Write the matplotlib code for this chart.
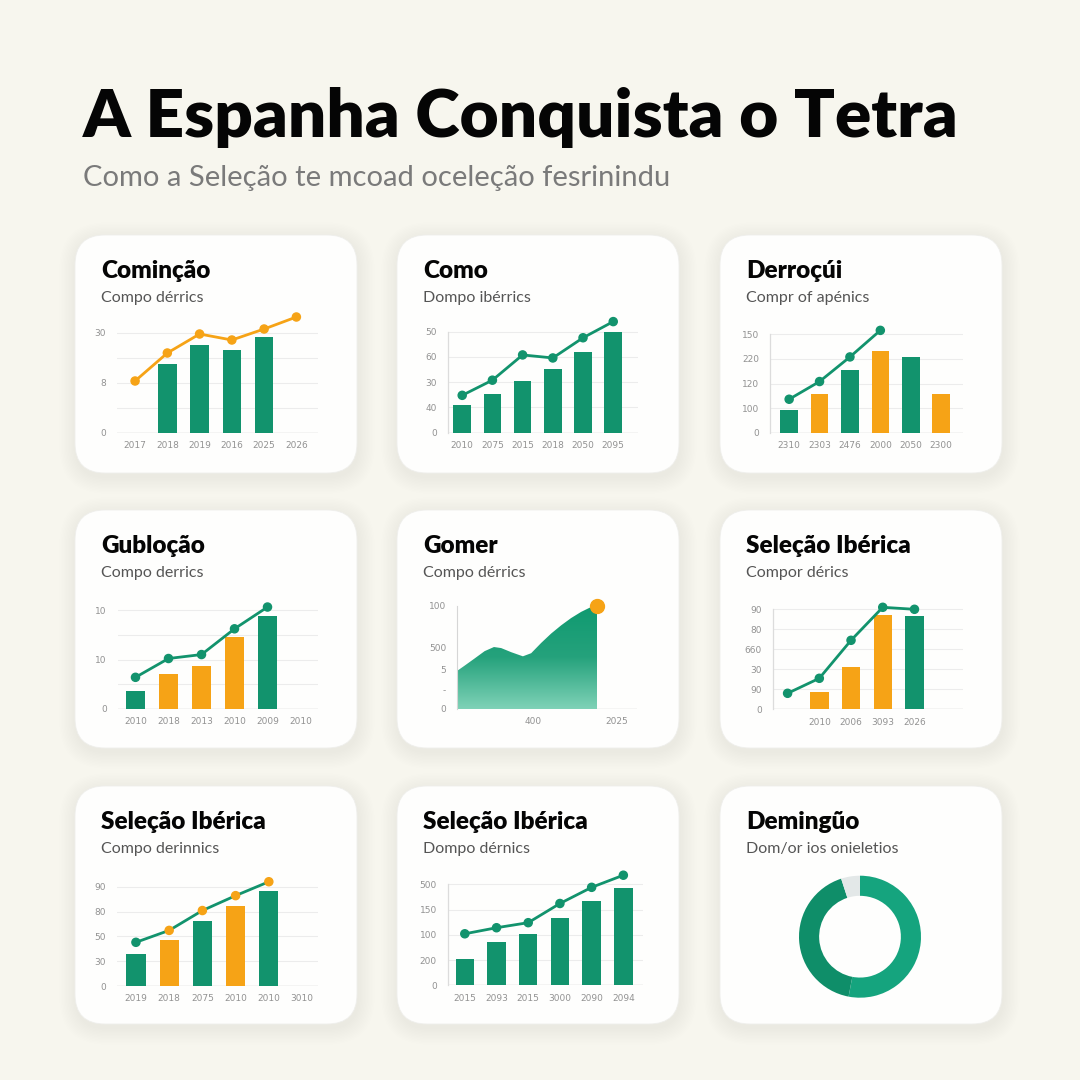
import numpy as np
import matplotlib
matplotlib.use("Agg")
import matplotlib.pyplot as plt
from matplotlib.patches import FancyBboxPatch
from matplotlib.colors import LinearSegmentedColormap

nan = np.nan

# ---- data ----
title = "A Espanha Conquista o Tetra"
subtitle = "Como a Seleção te mcoad oceleção fesrinindu"

card_titles = ["Cominção", "Como", "Derroçúi",
               "Gubloção", "Gomer", "Seleção Ibérica",
               "Seleção Ibérica", "Seleção Ibérica", "Demingũo"]
card_subtitles = ["Compo dérrics", "Dompo ibérrics", "Compr of apénics",
                  "Compo derrics", "Compo dérrics", "Compor dérics",
                  "Compo derinnics", "Dompo dérnics", "Dom/or ios onieletios"]

c1_years = ["2017", "2018", "2019", "2016", "2025", "2026"]
c1_bars = [nan, 69, 88, 83, 96, nan]
c1_line = [52, 80, 99, 93, 104, 116]
c1_ylabels = ["0", "", "8", "", "30"]

c2_years = ["2010", "2075", "2015", "2018", "2050", "2095"]
c2_bars = [27, 38, 51, 63, 80, 100]
c2_line = [37, 52, 77, 74, 94, 110]
c2_ylabels = ["0", "40", "30", "60", "50"]

c3_years = ["2310", "2303", "2476", "2000", "2050", "2300"]
c3_bars = [23, 39, 64, 83, 77, 39]
c3_line = [34, 52, 77, 104]
c3_ylabels = ["0", "100", "120", "220", "150"]

c4_years = ["2010", "2018", "2013", "2010", "2009", "2010"]
c4_bars = [18, 35, 43, 73, 94, nan]
c4_line = [32, 51, 55, 81, 103]
c4_ylabels = ["0", "", "10", "", "10"]

c5_x = [0, 4.1, 9.7, 15.2, 20.4, 24.4, 30, 36.5, 41.1, 46.7, 52.2, 57.8, 63.3, 68.9, 73.6, 77.9]
c5_y = [37, 42, 49, 56, 60, 59, 55, 51, 54, 64, 73, 81, 88, 94, 98, 100]
c5_xticks = [42, 89]
c5_xlabels = ["400", "2025"]
c5_yticks = [0, 19, 38, 60, 100]
c5_ylabels = ["0", "-", "5", "500", "100"]

c6_years = ["", "2010", "2006", "3093", "2026"]
c6_bars = [nan, 17, 42, 94, 93]
c6_line = [16, 31, 69, 102, 100]
c6_ylabels = ["0", "90", "30", "660", "80", "90"]

c7_years = ["2019", "2018", "2075", "2010", "2010", "3010"]
c7_bars = [32, 46, 65, 81, 96, nan]
c7_line = [44, 56, 76, 91, 105]
c7_ylabels = ["0", "30", "50", "80", "90"]

c8_years = ["2015", "2093", "2015", "3000", "2090", "2094"]
c8_bars = [26, 43, 51, 67, 83, 96]
c8_line = [51, 57, 62, 81, 97, 109]
c8_ylabels = ["0", "200", "100", "150", "500"]

c9_shares = [53, 42, 5]

# ---- style ----
BG = "#f7f6ee"
GREEN = "#12936d"
ORANGE = "#f6a316"
TICK = "#929292"
FONT = ["Lato", "DejaVu Sans"]
W = H = 1080

fig = plt.figure(figsize=(10.8, 10.8), dpi=100, facecolor=BG)
bg = fig.add_axes([0, 0, 1, 1])
bg.set_xlim(0, W)
bg.set_ylim(H, 0)
bg.axis("off")

bg.text(83, 137, title, fontsize=48.5, fontweight="heavy", family=FONT, color="#050505", va="baseline")
bg.text(83, 186, subtitle, fontsize=21, family=FONT, color="#7a7a7a", va="baseline")

col_x = [75, 397, 720]
row_y = [235, 510, 786]
cw, ch = 282, 238
for i in range(9):
    cx, cy = col_x[i % 3], row_y[i // 3]
    for k in range(12):
        p = 1 + k * 1.4
        sh = FancyBboxPatch((cx - p + 1, cy - p + 4), cw + 2 * p, ch + 2 * p,
                            boxstyle="round,pad=0,rounding_size=%f" % (30 + p),
                            fc="#8c8c84", ec="none", alpha=0.009, zorder=1)
        bg.add_patch(sh)
    card = FancyBboxPatch((cx, cy), cw, ch, boxstyle="round,pad=0,rounding_size=30",
                          fc="#fefefd", ec="#efefec", lw=0.6, zorder=2)
    bg.add_patch(card)
    bg.text(cx + 26, cy + 43, card_titles[i], fontsize=17.5, fontweight="heavy",
            family=FONT, color="#050505", va="baseline", zorder=3)
    bg.text(cx + 26, cy + 67, card_subtitles[i], fontsize=11.5,
            family=FONT, color="#555555", va="baseline", zorder=3)


def px_axes(left, top, right, bottom):
    return fig.add_axes([left / W, 1 - bottom / H, (right - left) / W, (bottom - top) / H])


def style_axes(ax, vline=False):
    ax.patch.set_alpha(0)
    for s in ["top", "right", "bottom", "left"]:
        ax.spines[s].set_visible(False)
    if vline:
        ax.spines["left"].set_visible(True)
        ax.spines["left"].set_color("#dcdcdc")
        ax.spines["left"].set_linewidth(0.9)
        ax.spines["left"].set_bounds(0, 100)
    ax.tick_params(length=0, labelsize=6.5, colors=TICK)
    ax.tick_params(axis="y", pad=8)
    ax.tick_params(axis="x", pad=6)


def bar_card(left, right, base, topgrid, xlim, years, bars, bar_colors, line,
             line_color, marker_colors, ylabels, vline=False):
    top = base - (base - topgrid) * 1.25
    ax = px_axes(left, top, right, base)
    style_axes(ax, vline)
    ax.set_xlim(*xlim)
    ax.set_ylim(0, 125)
    yt = np.linspace(0, 100, len(ylabels))
    ax.set_yticks(yt)
    ax.set_yticklabels(ylabels)
    ax.yaxis.grid(True, color="#ececec", lw=0.8, zorder=0)
    ax.axhline(0, color="#d2d2d2", lw=1.0, zorder=1)
    x = np.arange(len(bars))
    b = np.array(bars, dtype=float)
    ok = ~np.isnan(b)
    ax.bar(x[ok], b[ok], width=0.58, color=[c for c, o in zip(bar_colors, ok) if o], zorder=2)
    lx = np.arange(len(line))
    ax.plot(lx, line, color=line_color, lw=2.0, zorder=3, clip_on=False)
    ax.scatter(lx, line, c=marker_colors, s=34, zorder=4, clip_on=False)
    ax.set_xticks(np.arange(len(years)))
    ax.set_xticklabels(years)
    return ax


G, O = GREEN, ORANGE
bar_card(117, 318, 433, 333, (-0.56, 5.67), c1_years, c1_bars, [G] * 6, c1_line, O, [O] * 6, c1_ylabels)
bar_card(448, 638, 432.7, 331.7, (-0.47, 5.82), c2_years, c2_bars, [G] * 6, c2_line, G, [G] * 6, c2_ylabels, vline=True)
bar_card(770, 963, 432.7, 334.3, (-0.63, 5.72), c3_years, c3_bars, [G, O, G, O, G, O], c3_line, G, [G] * 4, c3_ylabels, vline=True)
bar_card(118, 318, 709, 610, (-0.53, 5.53), c4_years, c4_bars, [G, O, O, O, G, G], c4_line, G, [G] * 5, c4_ylabels)
bar_card(773, 963, 709.3, 609.3, (-0.46, 5.53), c6_years, c6_bars, [G, O, O, O, G], c6_line, G, [G] * 5, c6_ylabels, vline=True)
bar_card(117, 318, 986, 886.7, (-0.57, 5.48), c7_years, c7_bars, [G, O, G, O, G, G], c7_line, G, [G, O, O, O, O], c7_ylabels)
bar_card(448, 643, 985.3, 884.3, (-0.53, 5.62), c8_years, c8_bars, [G] * 6, c8_line, G, [G] * 6, c8_ylabels, vline=True)

# ---- card 5: area ----
base5, top5 = 709, 605.7
ax5 = px_axes(457.3, base5 - (base5 - top5) * 1.25, 637, base5)
style_axes(ax5)
ax5.set_xlim(0, 100)
ax5.set_ylim(0, 125)
ax5.spines["left"].set_visible(True)
ax5.spines["left"].set_bounds(0, 100)
ax5.spines["left"].set_color("#d6d6d6")
ax5.axhline(0, color="#d2d2d2", lw=1.0)
poly = ax5.fill_between(c5_x, 0, c5_y, color="none", lw=0)
cmap = LinearSegmentedColormap.from_list("g", ["#7fd2b7", "#25a27c", "#0f9a70"])
grad = np.linspace(0, 1, 256).reshape(-1, 1)
im = ax5.imshow(grad, extent=[0, max(c5_x), 0, 100], origin="lower", cmap=cmap,
                aspect="auto", zorder=2)
im.set_clip_path(poly.get_paths()[0], transform=ax5.transData)
ax5.plot(c5_x[-1], c5_y[-1], "o", color=ORANGE, ms=10, zorder=4, clip_on=False)
ax5.set_xticks(c5_xticks)
ax5.set_xticklabels(c5_xlabels)
ax5.set_yticks(c5_yticks)
ax5.set_yticklabels(c5_ylabels)

# ---- card 9: donut ----
ax9 = px_axes(799, 875.7, 921, 997.7)
ax9.pie(c9_shares, colors=["#15a47e", "#0f8e69", "#e3e8e8"], startangle=90,
        counterclock=False, radius=1, wedgeprops=dict(width=0.33, lw=0))
ax9.set_xlim(-1, 1)
ax9.set_ylim(-1, 1)
ax9.set_aspect("equal")

fig.savefig("out.png", dpi=100, facecolor=BG)
